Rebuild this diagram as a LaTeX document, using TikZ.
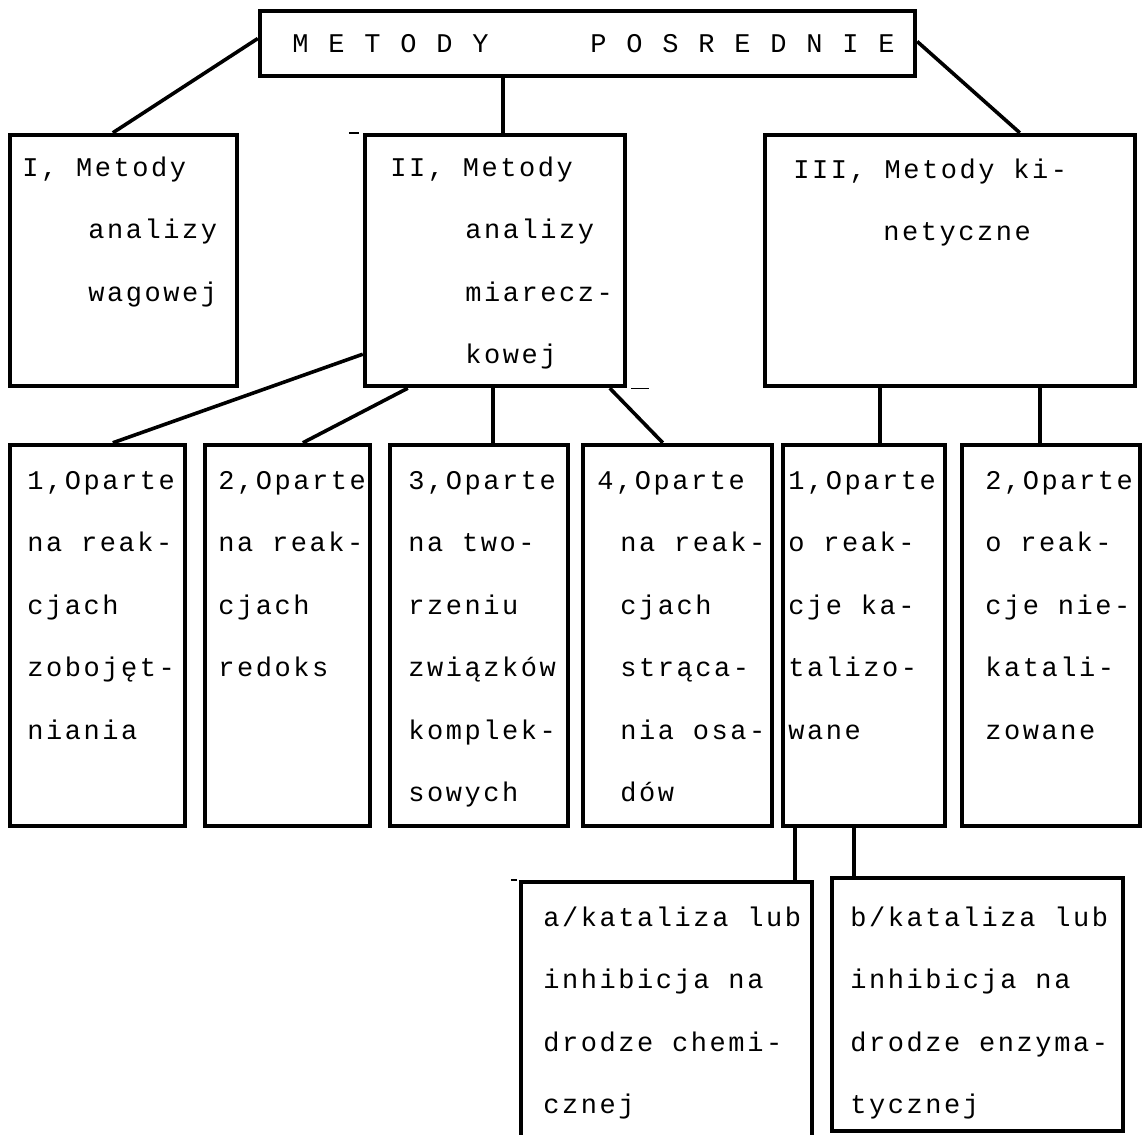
\documentclass[tikz,border=0pt]{standalone}
\usepackage{fontspec}
\newfontfamily\dm[LetterSpace=9.5]{Liberation Mono}
\usetikzlibrary{fit}
\newcommand\tl[1]{\makebox[18pt][l]{#1}}
\begin{document}
\begin{tikzpicture}[x=0.5pt,y=-0.5pt,
  box/.style={draw, line width=2.2pt, inner sep=0pt},
  con/.style={line width=1.8pt},
  straymark/.style={line width=0.7pt},
  txt/.style={anchor=north west, inner sep=0pt, align=left,
    font=\dm\fontsize{13.5}{31.2}\selectfont},
]
\useasboundingbox[fill=white] (0,0) rectangle (1147,1135);

% boxes
\node[box, fit={(260,11) (915,76)}] (top) {};
\node[box, fit={(10,135) (237,386)}] (bI) {};
\node[box, fit={(365,135) (625,386)}] (bII) {};
\node[box, fit={(765,135) (1135,386)}] (bIII) {};
\node[box, fit={(10,445) (185,826)}] (b1) {};
\node[box, fit={(205,445) (370,826)}] (b2) {};
\node[box, fit={(390,445) (568,826)}] (b3) {};
\node[box, fit={(583,445) (772,826)}] (b4) {};
\node[box, fit={(783,445) (945,826)}] (b5) {};
\node[box, fit={(962,445) (1140,826)}] (b6) {};
\node[box, fit={(521,882) (812,1142)}] (ba) {};
\node[box, fit={(832,878) (1123,1131)}] (bb) {};

% texts
\node[anchor=base west, inner sep=0pt, font=\dm\fontsize{13.5}{16}\selectfont] (ttop) at (292,52)
  {\tl{M}\tl{E}\tl{T}\tl{O}\tl{D}\makebox[59pt][l]{Y}\tl{P}\tl{O}\tl{S}\tl{R}\tl{E}\tl{D}\tl{N}\tl{I}E};
\node[txt] (tI) at (22,156) {\rule{0pt}{10pt}I, Metody\\\hspace*{33pt}analizy\\\hspace*{33pt}wagowej};
\node[txt] (tII) at (390,156) {\rule{0pt}{10pt}II, Metody\\\hspace*{37.5pt}analizy\\\hspace*{37.5pt}miarecz-\\\hspace*{37.5pt}kowej};
\node[txt] (tIII) at (793,158) {\rule{0pt}{10pt}III, Metody ki-\\\hspace*{45pt}netyczne};
\node[txt] (t1) at (27,469) {\rule{0pt}{10pt}1,Oparte\\na reak-\\cjach\\zobojęt-\\niania};
\node[txt] (t2) at (218,469) {\rule{0pt}{10pt}2,Oparte\\na reak-\\cjach\\redoks};
\node[txt] (t3) at (408,469) {\rule{0pt}{10pt}3,Oparte\\na two-\\rzeniu\\związków\\komplek-\\sowych};
\node[txt] (t4) at (597,469) {\rule{0pt}{10pt}4,Oparte\\\hspace*{11.5pt}na reak-\\\hspace*{11.5pt}cjach\\\hspace*{11.5pt}strąca-\\\hspace*{11.5pt}nia osa-\\\hspace*{11.5pt}dów};
\node[txt] (t5) at (788,469) {\rule{0pt}{10pt}1,Oparte\\o reak-\\cje ka-\\talizo-\\wane};
\node[txt] (t6) at (985,469) {\rule{0pt}{10pt}2,Oparte\\o reak-\\cje nie-\\katali-\\zowane};
\node[txt] (ta) at (543,906) {\rule{0pt}{10pt}a/kataliza lub\\inhibicja na\\drodze chemi-\\cznej};
\node[txt] (tb) at (850,906) {\rule{0pt}{10pt}b/kataliza lub\\inhibicja na\\drodze enzyma-\\tycznej};

% connectors
\draw[con] ([yshift=2.5pt]top.west) -- ([xshift=52.5pt]bI.north west);
\coordinate (c2) at ([xshift=122.5pt]top.south west);
\draw[con] (c2) -- (c2 |- bII.north);
\draw[con] ([yshift=1pt]top.east) -- ([xshift=128.5pt]bIII.north west);
\draw[con] ([yshift=17pt]bII.south west) -- ([xshift=52.5pt]b1.north west);
\draw[con] ([xshift=22.5pt]bII.south west) -- ([xshift=50pt]b2.north west);
\coordinate (c6) at ([xshift=65pt]bII.south west);
\draw[con] (c6) -- (c6 |- b3.north);
\draw[con] ([xshift=123.5pt]bII.south west) -- ([xshift=41pt]b4.north west);
\coordinate (c8) at ([xshift=58.5pt]bIII.south west);
\draw[con] (c8) -- (c8 |- b5.north);
\coordinate (c9) at ([xshift=138.5pt]bIII.south west);
\draw[con] (c9) -- (c9 |- b6.north);
\coordinate (c10) at ([xshift=7pt]b5.south west);
\draw[con] (c10) -- (c10 |- ba.north);
\coordinate (c11) at ([xshift=36.5pt]b5.south west);
\draw[con] (c11) -- (c11 |- bb.north);

% small stray marks
\draw[straymark] ([xshift=-7pt]bII.north west) -- ([xshift=-2pt]bII.north west);
\draw[straymark] ([xshift=2pt]bII.south east) -- ([xshift=11pt]bII.south east);
\draw[straymark] ([xshift=-4pt]ba.north west) -- ([xshift=-1pt]ba.north west);
\end{tikzpicture}
\end{document}
